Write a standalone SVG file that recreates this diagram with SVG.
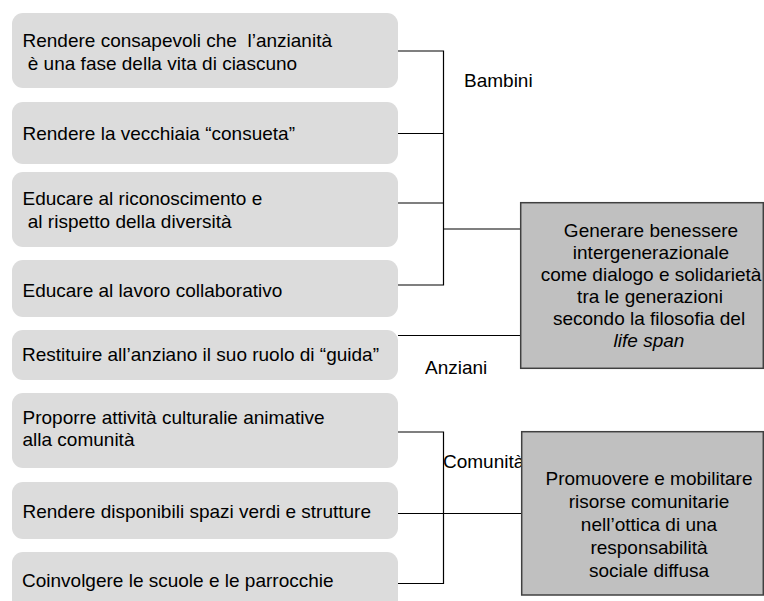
<svg xmlns="http://www.w3.org/2000/svg" width="764" height="601" viewBox="0 0 764 601">
<style>
text{font-family:"Liberation Sans",Arial,sans-serif;font-size:19px;fill:#000}
.src{fill:#dcdcdc;stroke:none}
.goal{fill:#c0c0c0;stroke:#404040;stroke-width:1.5}
.c{text-anchor:middle}
.ln{stroke:#000;stroke-width:1.2;fill:none}
</style>
<rect width="764" height="601" fill="#fff"/>
<g id="n1"><rect class="src" x="12" y="13" width="386" height="75" rx="11"/>
<text x="22.5" y="47" xml:space="preserve">Rendere consapevoli che  l’anzianità</text>
<text x="22.5" y="69.5" xml:space="preserve"> è una fase della vita di ciascuno</text></g>
<g id="n2"><rect class="src" x="12" y="102" width="386" height="62" rx="11"/>
<text x="22.5" y="140">Rendere la vecchiaia “consueta”</text></g>
<g id="n3"><rect class="src" x="12" y="172" width="386" height="75" rx="11"/>
<text x="22.5" y="205">Educare al riconoscimento e</text>
<text x="22.5" y="227.5" xml:space="preserve"> al rispetto della diversità</text></g>
<g id="n4"><rect class="src" x="12" y="260" width="386" height="57" rx="11"/>
<text x="22.5" y="296.5">Educare al lavoro collaborativo</text></g>
<g id="n5"><rect class="src" x="12" y="330" width="386" height="50" rx="11"/>
<text x="22" y="361">Restituire all’anziano il suo ruolo di “guida”</text></g>
<g id="n6"><rect class="src" x="12" y="393" width="386" height="75" rx="11"/>
<text x="22.5" y="423.5">Proporre attività culturalie animative</text>
<text x="22.5" y="446">alla comunità</text></g>
<g id="n7"><rect class="src" x="12" y="482" width="386" height="57" rx="11"/>
<text x="22.5" y="518">Rendere disponibili spazi verdi e strutture</text></g>
<g id="n8"><rect class="src" x="12" y="552" width="386" height="62" rx="11"/>
<text x="22" y="587">Coinvolgere le scuole e le parrocchie</text></g>
<g id="connectors">
<path class="ln" d="M398 51H443.5V285H398M398 133.5H443.5M398 203H443.5M443.5 229H520.5"/>
<path class="ln" d="M398 335.5H520.5"/>
<path class="ln" d="M398 432H443.5V583.5H398M398 513.5H521.5"/>
</g>
<g id="lbl-bambini"><text x="464" y="87">Bambini</text></g>
<g id="lbl-anziani"><text x="425" y="374">Anziani</text></g>
<g id="lbl-comunita"><text x="443" y="468">Comunità</text></g>
<g id="g1"><rect class="goal" x="520.7" y="202.7" width="242.6" height="165.6"/>
<text class="c" x="651" y="237">Generare benessere</text>
<text class="c" x="651" y="259">intergenerazionale</text>
<text class="c" x="651" y="281">come dialogo e solidarietà</text>
<text class="c" x="650" y="303">tra le generazioni</text>
<text class="c" x="649" y="325">secondo la filosofia del</text>
<text class="c" x="649" y="347" font-style="italic">life span</text></g>
<g id="g2"><rect class="goal" x="521.7" y="431.7" width="241.6" height="163.3"/>
<text class="c" x="649" y="485">Promuovere e mobilitare</text>
<text class="c" x="649" y="508">risorse comunitarie</text>
<text class="c" x="649" y="531">nell’ottica di una</text>
<text class="c" x="649" y="554">responsabilità</text>
<text class="c" x="649" y="577">sociale diffusa</text></g>
</svg>
